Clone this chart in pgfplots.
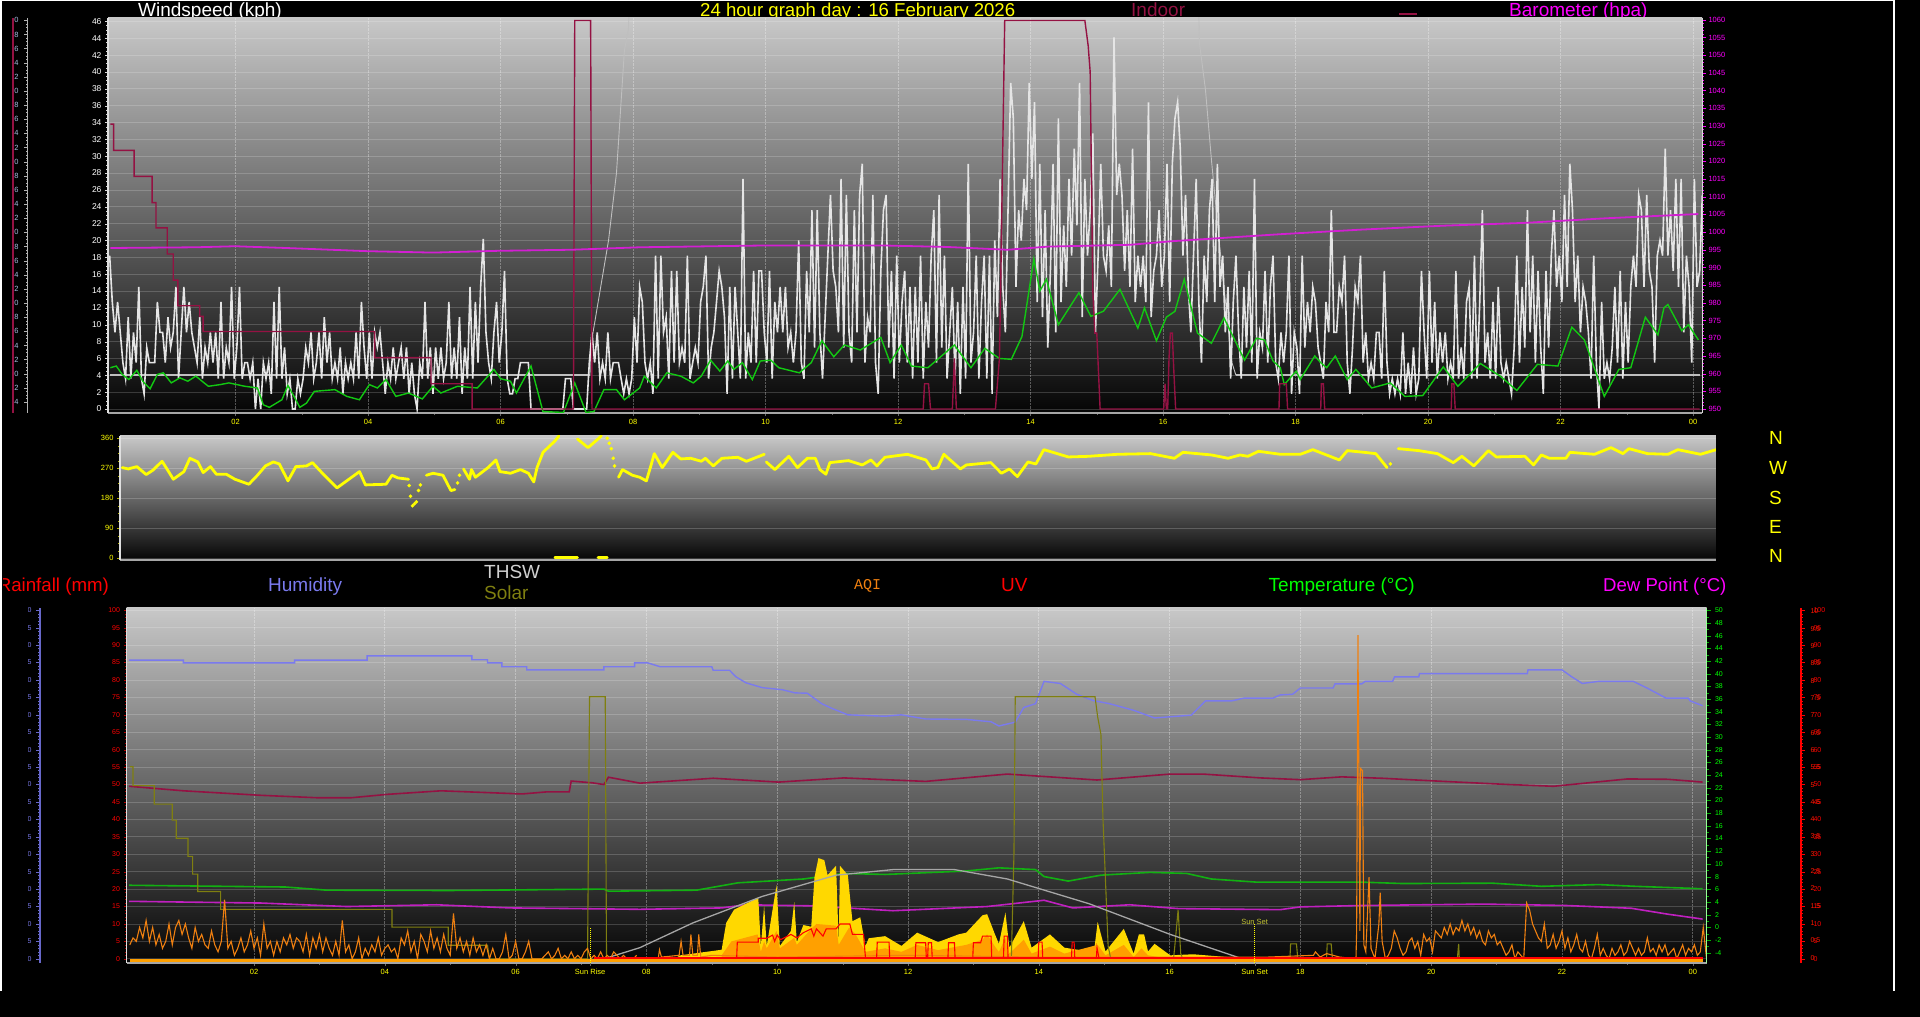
\documentclass[border=0pt]{standalone}
\usepackage{fontspec}
\setmainfont{Liberation Sans}
\newfontfamily\monofnt{Liberation Mono}
\usepackage{pgfplots}
\usepackage{pgfplotstable}
\pgfplotsset{compat=1.18}

\definecolor{yellow}{HTML}{FFFF00}
\definecolor{magenta}{HTML}{FF00FF}
\definecolor{indoor}{HTML}{941243}
\definecolor{baro}{HTML}{D21FD2}
\definecolor{windavg}{HTML}{12C812}
\definecolor{humid}{HTML}{7A7AEE}
\definecolor{olivec}{HTML}{7F7F10}
\definecolor{aqi}{HTML}{F08010}
\definecolor{solary}{HTML}{FFD800}
\definecolor{solaro}{HTML}{FFA000}
\definecolor{dewc}{HTML}{C020C0}
\definecolor{tempc}{HTML}{12B012}
\definecolor{farlabel}{HTML}{A8BCE0}

\newcommand{\fs}[1]{\fontsize{#1}{#1}\selectfont}
% title at x, baseline measured from the top of the picture in pixels
\newcommand{\ttl}[5][19]{\node[anchor=base west,inner sep=0pt,text=#5,font=\fs{#1}] at (#2pt,1017pt-#3pt) {#4};}

\pgfplotsset{
  panel/.style={
    scale only axis,
    axis y line*=left, axis x line*=bottom,
    axis background/.style={top color=bgtop, bottom color=bgbot},
    tick align=outside,
    major tick length=3pt, minor tick length=2pt,
    /pgf/number format/assume math mode=true,
    /pgf/number format/1000 sep={},
    y axis line style={color=black!12!white,line width=1.6pt},
    x axis line style={color=black!35!white,line width=2pt},
  },
  hours/.style={
    xtick={2,4,...,24},
    xticklabels={02,04,06,08,10,12,14,16,18,20,22,00},
    minor x tick num=1,
    xticklabel style={font=\fs{7.5},text=yellow},
    xmajorgrids, x grid style={white,opacity=.3,densely dotted,line width=.8pt},
    x tick style={black!60!white},
  },
  sideaxis/.style={
    scale only axis,
    axis x line=none,
    tick align=inside,
    major tick length=4pt, minor tick length=2pt,
    /pgf/number format/assume math mode=true,
    /pgf/number format/1000 sep={},
  },
  dirl/.style={yellow,line width=2.8pt,line cap=round,line join=round,mark=none},
  dird/.style={yellow,only marks,mark=*,mark size=1.6pt,mark options={fill=yellow,draw=yellow}},
}
\definecolor{bgtop}{HTML}{C8C8C8}
\definecolor{bgbot}{HTML}{050505}

% wind gust in kph, one row every 0.04 h from 0.1 h
\pgfplotstableread[row sep=\\,header=false]{
18.2\\12.7\\9.1\\12.7\\9.1\\5.5\\3.6\\10.9\\3.6\\9.1\\5.5\\14.5\\3.6\\1.8\\7.3\\5.5\\5.5\\5.5\\12.7\\9.1\\9.1\\5.5\\10.9\\7.3\\9.1\\
14.5\\3.6\\9.1\\14.5\\9.1\\12.7\\9.1\\7.3\\5.5\\10.9\\3.6\\7.3\\5.5\\9.1\\5.5\\9.1\\3.6\\12.7\\3.6\\7.3\\5.5\\14.5\\3.6\\7.3\\14.5\\
3.6\\5.5\\5.5\\3.6\\5.5\\0\\3.6\\0\\5.5\\3.6\\5.5\\1.8\\12.7\\3.6\\14.5\\3.6\\7.3\\1.8\\3.6\\0\\0\\3.6\\1.8\\3.6\\7.3\\
5.5\\9.1\\3.6\\5.5\\9.1\\3.6\\10.9\\5.5\\9.1\\3.6\\5.5\\3.6\\7.3\\1.8\\5.5\\3.6\\5.5\\3.6\\9.1\\3.6\\12.7\\7.3\\3.6\\9.1\\3.6\\
9.1\\7.3\\9.1\\5.5\\1.8\\5.5\\3.6\\7.3\\3.6\\5.5\\7.3\\3.6\\7.3\\1.8\\5.5\\1.8\\0\\5.5\\3.6\\12.7\\3.6\\7.3\\1.8\\7.3\\3.6\\
7.3\\3.6\\5.5\\12.7\\3.6\\7.3\\3.6\\10.9\\1.8\\7.3\\3.6\\14.5\\3.6\\12.7\\5.5\\14.5\\20.2\\9.1\\5.5\\3.6\\9.1\\12.7\\5.5\\9.1\\16.4\\
3.6\\1.8\\1.8\\3.6\\3.6\\5.5\\5.5\\5.5\\5.5\\0\\0\\0\\0\\0\\0\\0\\0\\0\\0\\0\\0\\0\\3.6\\3.6\\3.6\\
0\\0\\0\\0\\0\\0\\5.5\\9.1\\5.5\\9.1\\3.6\\5.5\\3.6\\9.1\\3.6\\5.5\\5.5\\5.5\\3.6\\1.8\\3.6\\1.8\\3.6\\10.9\\5.5\\
14.5\\12.7\\5.5\\3.6\\5.5\\1.8\\18.2\\3.6\\18.2\\9.1\\10.9\\3.6\\16.4\\5.5\\16.4\\5.5\\7.3\\5.5\\18.2\\3.6\\5.5\\7.3\\5.5\\12.7\\14.5\\
18.2\\3.6\\7.3\\9.1\\12.7\\16.4\\14.5\\10.9\\1.8\\14.5\\3.6\\14.5\\9.1\\3.6\\27.3\\3.6\\9.1\\5.5\\16.4\\5.5\\16.4\\16.4\\9.1\\5.5\\16.4\\
3.6\\12.7\\9.1\\14.5\\9.1\\14.5\\7.3\\9.1\\5.5\\9.1\\20\\5.5\\3.6\\16.4\\9.1\\23.6\\7.3\\23.6\\9.1\\3.6\\10.9\\18.2\\25.4\\16.4\\14.5\\
9.1\\27.3\\7.3\\25.4\\9.1\\5.5\\23.6\\9.1\\25.4\\29.1\\5.5\\10.9\\9.1\\25.4\\5.5\\1.8\\16.4\\23.6\\25.4\\7.3\\16.4\\3.6\\18.2\\5.5\\12.7\\
16.4\\5.5\\14.5\\3.6\\14.5\\5.5\\18.2\\3.6\\12.7\\7.3\\18.2\\23.6\\5.5\\25.4\\7.3\\18.2\\3.6\\9.1\\14.5\\3.6\\12.7\\1.8\\14.5\\3.6\\29.1\\
5.5\\9.1\\18.2\\3.6\\12.7\\18.2\\3.6\\18.2\\1.8\\20\\10.9\\27.3\\14.5\\9.1\\23.6\\38.7\\34.5\\14.5\\23.6\\20\\27.3\\23.6\\38.7\\27.3\\36.4\\
12.7\\29.1\\10.9\\23.6\\7.3\\16.4\\29.1\\9.1\\34.5\\12.7\\21.8\\14.5\\27.3\\18.2\\30.9\\21.8\\38.7\\10.9\\27.3\\18.2\\23.6\\32.7\\9.1\\18.2\\29.1\\
18.2\\16.4\\21.8\\14.5\\44.1\\25.4\\29.1\\25.4\\16.4\\23.6\\14.5\\30.9\\12.7\\18.2\\14.5\\18.2\\12.7\\36.4\\10.9\\16.4\\18.2\\23.6\\14.5\\18.2\\29.1\\
12.7\\29.1\\34.5\\36.4\\30.9\\18.2\\25.4\\14.5\\9.1\\18.2\\27.3\\12.7\\5.5\\18.2\\12.7\\23.6\\27.3\\12.7\\29.1\\14.5\\18.2\\9.1\\14.5\\3.6\\12.7\\
18.2\\9.1\\3.6\\14.5\\7.3\\16.4\\5.5\\27.3\\3.6\\9.1\\7.3\\16.4\\5.5\\14.5\\18.2\\5.5\\3.6\\9.1\\5.5\\9.1\\18.2\\1.8\\9.1\\7.3\\1.8\\
18.2\\7.3\\12.7\\9.1\\14.5\\12.7\\7.3\\5.5\\3.6\\12.7\\9.1\\23.6\\9.1\\9.1\\14.5\\12.7\\18.2\\5.5\\1.8\\7.3\\14.5\\12.7\\18.2\\5.5\\9.1\\
3.6\\5.5\\3.6\\9.1\\9.1\\3.6\\16.4\\5.5\\1.8\\3.6\\1.8\\3.6\\1.8\\9.1\\1.8\\5.5\\1.8\\7.3\\1.8\\3.6\\16.4\\9.1\\3.6\\16.4\\5.5\\
12.7\\3.6\\9.1\\5.5\\9.1\\3.6\\5.5\\3.6\\16.4\\3.6\\7.3\\3.6\\12.7\\14.5\\3.6\\18.2\\3.6\\12.7\\23.6\\5.5\\9.1\\3.6\\12.7\\3.6\\14.5\\
5.5\\3.6\\5.5\\3.6\\1.8\\7.3\\18.2\\5.5\\14.5\\7.3\\23.6\\9.1\\18.2\\5.5\\16.4\\7.3\\1.8\\16.4\\7.3\\18.2\\23.6\\14.5\\18.2\\12.7\\25.4\\
14.5\\29.1\\23.6\\12.7\\18.2\\9.1\\14.5\\12.7\\9.1\\3.6\\18.2\\5.5\\0\\12.7\\3.6\\5.5\\3.6\\7.3\\14.5\\5.5\\16.4\\3.6\\12.7\\5.5\\14.5\\
18.2\\14.5\\25.4\\23.6\\14.5\\25.4\\16.4\\14.5\\5.5\\18.2\\20\\18.2\\30.9\\18.2\\23.6\\16.4\\27.3\\14.5\\27.3\\9.1\\18.2\\14.5\\5.5\\27.3\\14.5\\16.4\\25.4\\9.1\\18.2\\12.7\\14.5\\23.6\\
}\windgust

% AQI, one row every 0.05 h from 0.1 h
\pgfplotstableread[row sep=\\,header=false]{
4\\6\\5\\9\\6\\11\\5\\9\\4\\7\\3\\5\\10\\4\\9\\11\\7\\10\\6\\3\\9\\5\\7\\4\\3\\8\\4\\2\\5\\17\\3\\5\\1\\3\\6\\2\\4\\8\\3\\6\\1\\10\\3\\5\\1\\5\\2\\6\\4\\7\\3\\6\\5\\2\\7\\1\\6\\3\\7\\2\\
6\\3\\1\\5\\1\\11\\2\\4\\0\\2\\6\\0\\3\\1\\4\\2\\6\\1\\3\\4\\2\\3\\0\\6\\4\\8\\2\\5\\0\\7\\5\\2\\8\\3\\6\\2\\7\\3\\1\\13\\3\\6\\2\\5\\1\\6\\2\\4\\1\\4\\0\\3\\0\\0\\2\\7\\0\\1\\5\\0\\
0\\2\\5\\0\\0\\0\\0\\1\\2\\0\\1\\3\\0\\1\\0\\2\\0\\1\\0\\2\\3\\0\\1\\0\\2\\0\\1\\0\\2\\1\\0\\1\\0\\0\\0\\1\\
}\aqifirst
% AQI from 19.3 h
\pgfplotstableread[row sep=\\,header=false]{
0\\1\\3\\8\\6\\3\\1\\2\\5\\6\\3\\5\\1\\7\\5\\6\\2\\8\\7\\6\\9\\7\\10\\7\\9\\8\\11\\8\\10\\7\\9\\6\\8\\5\\4\\8\\6\\7\\4\\5\\3\\1\\2\\4\\0\\2\\1\\0\\16\\14\\10\\8\\6\\5\\10\\3\\4\\7\\3\\5\\8\\3\\6\\2\\4\\7\\3\\2\\5\\1\\0\\3\\7\\1\\3\\1\\0\\3\\1\\2\\4\\1\\2\\5\\3\\1\\3\\1\\2\\6\\2\\3\\1\\4\\2\\4\\1\\2\\3\\0\\2\\4\\1\\3\\2\\4\\1\\2\\9\\1\\4\\1\\
}\aqilast

\begin{document}
\begin{tikzpicture}
\useasboundingbox (0,0) rectangle (1920pt,1017pt);
\fill[black] (0,0) rectangle (1920pt,1017pt);

% titles first, the panels cover their descenders
\ttl{138}{17}{Windspeed (kph)}{white}
\ttl[18.6]{700}{17}{24 hour graph day : 16 February 2026}{yellow}
\ttl{1131}{17}{Indoor}{indoor}
\ttl{1509}{17}{Barometer (hpa)}{magenta}
\draw[indoor,line width=1.5pt] (1399pt,1003pt) -- (1417pt,1003pt);
\begin{scope}
\clip (3pt,560pt) rectangle (120pt,400pt);
\ttl[18.7]{-2.4}{592}{Rainfall (mm)}{red}
\end{scope}
\ttl{268}{592}{Humidity}{humid}
\ttl{484}{579}{THSW}{black!18!white}
\ttl{484}{600}{Solar}{olivec}
\node[anchor=base west,inner sep=0pt,text=aqi,font=\monofnt\fs{15}] at (854pt,427.5pt) {AQI};
\ttl{1001}{592}{UV}{red}
\ttl{1268.5}{592}{Temperature (°C)}{green}
\ttl[18.6]{1603}{592}{Dew Point (°C)}{magenta}
\ttl{1769}{445}{N}{yellow}
\ttl{1769}{475}{W}{yellow}
\ttl{1769}{505}{S}{yellow}
\ttl{1769}{534}{E}{yellow}
\ttl{1769}{563}{N}{yellow}

% ---------- wind panel ----------
\begin{axis}[panel,hours,
  at={(108pt,604pt)},width=1594pt,height=395pt,
  xmin=0.075,xmax=24.135,ymin=-0.47,ymax=46.4,
  ytick={0,2,...,46},minor y tick num=3,
  yticklabel style={font=\fs{8.5},text=white},
  y tick style={black!15!white},
  ymajorgrids,y grid style={white,opacity=.18,line width=.8pt},
]
\addplot[black!25!white,line width=1.8pt] coordinates {(0.11,4)(7.35,4)};
\addplot[black!25!white,line width=.9pt] coordinates {(7.35,4)(7.36,7.4)(7.63,20)(7.75,28)(7.87,42.6)(7.93,45)(8.0,60)};
\addplot[black!25!white,line width=.9pt] coordinates {(16.5,60)(16.55,43.4)(16.64,37.9)(16.73,29.6)(16.86,18.9)(17.04,5.5)(17.1,4)};
\addplot[black!25!white,line width=1.8pt] coordinates {(17.1,4)(24.1,4)};
\addplot[black!10!white,line width=1.6pt] table[x expr=\coordindex*0.04+0.1,y index=0] \windgust;
\addplot[windavg,line width=1.4pt] coordinates {
(.11,4.9)(.2,5.1)(.29,4.1)(.39,3.5)(.51,4.6)(.6,3.3)(.71,2.4)(.82,4.1)(.91,4.3)(1.03,3.1)(1.16,3.7)(1.28,3.3)(1.4,3.9)(1.59,2.7)(1.77,2.9)(1.9,3.1)(2.14,2.7)(2.33,2.5)(2.42,.5)(2.51,.2)(2.7,1.1)(2.79,2.8)(2.91,1.1)(2.97,.2)(3.07,.7)(3.19,2.1)(3.5,2.3)(3.68,1.5)(3.87,1.1)(4.02,2.9)(4.14,2.5)(4.27,3.5)(4.42,1.5)(4.61,1.9)(4.82,1.2)(4.98,2.7)(5.1,1.9)(5.35,2.7)(5.65,2.5)(5.9,4.7)(6,3.6)(6.15,3.3)(6.24,1.9)(6.46,5.1)(6.64,-.3)(6.95,-.4)(7.12,3.1)(7.29,-.4)(7.41,-.3)(7.56,2.3)(7.75,2.3)(7.87,1.1)(8.1,2.5)
(8.17,3.9)(8.35,2.5)(8.51,4.3)(8.72,3.9)(8.91,3.1)(9.03,3.9)(9.17,5.8)(9.31,4.5)(9.43,5.7)(9.52,4.7)(9.65,5.5)(9.8,3.5)(9.92,5.7)(10.08,5.8)(10.2,4.9)(10.51,4.3)(10.69,5.5)(10.85,8.1)(11.03,6.2)(11.19,7.6)(11.43,7)(11.74,8.5)(11.88,5.5)(12.05,7.6)(12.2,5.1)(12.45,4.9)(12.85,7.6)(13.1,4.9)(13.31,7.2)(13.53,6)(13.71,5.9)(13.87,8.6)(14.05,17.8)(14.14,14)(14.24,15.4)(14.42,10)(14.73,13.8)(14.91,11)(15.1,11.6)(15.35,14.2)(15.62,9.6)(15.72,12)(15.9,8.1)(16.05,10.9)(16.18,11.6)(16.32,15.4)(16.52,9)(16.73,7.8)(16.92,10.8)(17.23,5.8)(17.41,8.4)(17.53,8.2)(17.66,5.7)
(17.77,4.9)(17.83,2.9)(18.01,4.5)(18.07,3.5)(18.29,6.3)(18.38,5.5)(18.47,4.9)(18.6,6.3)(18.78,3.5)(18.91,4.7)(19.15,2.5)(19.43,3.1)(19.65,1.5)(19.92,1.6)(20.23,5)(20.45,2.7)(20.79,5.4)(21.09,3.9)(21.34,2.2)(21.65,5.3)(21.96,5.1)(22.17,9.7)(22.36,8.2)(22.66,1.5)(22.88,4.7)(23.06,4.9)(23.28,10.9)(23.47,8.8)(23.56,12)(23.62,12.4)(23.83,9.3)(23.93,10)(24.08,8.2)};
\addplot[indoor,line width=1.4pt] coordinates {
(0.11,33.8)(0.16,33.8)(0.16,30.7)(0.47,30.7)(0.47,27.6)(0.74,27.6)(0.74,24.5)(0.8,24.5)(0.8,21.5)(0.97,21.5)(0.97,18.4)(1.06,18.4)(1.06,15.3)(1.13,15.3)(1.13,12.25)(1.46,12.25)(1.46,11)(1.51,11)(1.51,9.2)(4.1,9.2)(4.1,6.1)(4.95,6.1)(4.95,3)(5.57,3)(5.57,0)(7.1,0)(7.12,46.1)(7.36,46.1)(7.38,0)(12.38,0)(12.4,3)(12.46,3)(12.49,0)(12.82,0)(12.85,6)(12.88,0)(13.47,0)(13.5,3)(13.53,6)(13.55,15)(13.61,46.1)(14.82,46.1)(14.87,43.1)(14.9,40)(14.94,14)(14.97,9)(15,9)(15.05,0)(16.01,0)(16.03,3)(16.05,0)(16.07,0)(16.09,6)(16.11,9)(16.14,9)(16.16,5)(16.19,0)(17.75,0)(17.76,3)(17.86,3)(17.88,0)(18.38,0)(18.39,3)(18.42,3)(18.44,0)(20.35,0)(20.36,3)(20.39,3)(20.41,0)(24.1,0)};
\end{axis}
\begin{axis}[sideaxis,
  at={(108pt,604pt)},width=1594pt,height=395pt,
  xmin=0.075,xmax=24.135,ymin=948.87,ymax=1060.5,
  axis y line*=right,
  tick align=outside,
  ytick={950,955,...,1060},minor y tick num=4,
  yticklabel style={font=\fs{7.5},text=magenta,xshift=-1pt},
  y axis line style={black!15!white,line width=1pt},
  y tick style={magenta},
]
\addplot[baro,line width=1.8pt] coordinates {
(.11,995.5)(1.4,995.7)(2,996)(2.14,995.9)(2.76,995.5)(3.99,994.6)(4.98,994.2)(5.96,994.7)(7.07,995)(8.1,995.7)(9.95,996.2)(11.8,996.2)(12.73,995.8)(13.65,995)(14.27,995.9)(15.5,996.4)(16.12,997.4)(17.77,999.4)(19,1000.7)(20.23,1001.8)(21.46,1002.6)(22.69,1003.9)(24.08,1005.1)};
\end{axis}
% indoor scale at the far left, two-digit labels are cut by the frame
\begin{scope}
\clip (14pt,590pt) rectangle (40pt,1017pt);
\begin{axis}[sideaxis,
  at={(12.5pt,604pt)},width=15pt,height=395pt,
  xmin=0,xmax=1,ymin=-5.56,ymax=50.33,
  axis y line*=right,
  ytick={-4,-2,...,50},minor y tick num=3,
  yticklabel style={font=\fs{7.5},text=farlabel,anchor=east,xshift=-5.5pt},
  y axis line style={black!30!white,line width=1pt},
  y tick style={black!30!white},
]
\addplot[draw=none] coordinates {(0,0)};
\end{axis}
\end{scope}
\draw[indoor,line width=2pt] (12.6pt,604pt) -- (12.6pt,999pt);

% ---------- wind direction ----------
\begin{axis}[panel,
  at={(120pt,457pt)},width=1596pt,height=124pt,
  xmin=0.075,xmax=24.165,ymin=-5.7,ymax=367,
  xtick=\empty,
  ytick={0,90,180,270,360},minor y tick num=3,
  yticklabel style={font=\fs{7.5},text=yellow},
  y tick style={yellow!70!black},
  ymajorgrids,y grid style={white,opacity=.2,line width=.8pt},
]
\addplot[dirl] coordinates {(.11,272)(.2,268)(.33,275)(.47,251)(.57,264)(.71,291)(.79,266)(.88,237)(1.04,260)(1.13,300)(1.25,289)(1.33,257)(1.44,275)(1.53,252)(1.68,252)(1.81,237)(2.02,222)(2.15,249)(2.27,277)(2.39,289)(2.48,283)(2.61,232)(2.73,275)(2.89,277)(2.98,287)(3.13,255)(3.35,211)(3.69,260)(3.78,220)(4.09,222)(4.18,249)(4.27,241)(4.43,237)};
\addplot[dird] coordinates {(4.44,218)(4.46,186)(4.49,157)(4.52,163)(4.55,169)(4.58,203)(4.61,220)};
\addplot[dirl] coordinates {(4.7,249)(4.8,255)(4.95,249)(5.07,203)(5.13,206)};
\addplot[dird] coordinates {(5.17,226)(5.2,249)};
\addplot[dirl] coordinates {(5.26,268)(5.35,237)(5.38,266)(5.44,243)(5.63,272)(5.75,295)(5.81,260)(5.97,255)(6.12,266)(6.24,255)(6.32,229)(6.37,272)(6.46,318)(6.64,352)(6.7,367)};
\addplot[dirl] coordinates {(6.98,358)(7.14,332)(7.29,358)(7.34,367)};
\addplot[dird] coordinates {(7.43,360)(7.46,345)(7.49,329)(7.52,300)(7.54,277)};
\addplot[dirl] coordinates {(7.6,243)(7.66,266)(7.81,249)(7.92,243)(8.02,232)(8.08,272)(8.14,314)(8.26,272)(8.42,318)(8.54,298)(8.69,300)(8.85,291)(8.91,300)(9.03,277)(9.16,300)(9.4,303)(9.53,291)(9.8,312)};
\addplot[dirl] coordinates {(9.83,289)(9.96,266)(10.17,306)(10.3,272)(10.45,300)(10.57,300)(10.64,266)(10.73,252)(10.79,287)(11.07,293)(11.28,280)(11.41,295)(11.5,277)(11.62,303)(11.96,312)(12.24,295)(12.33,268)(12.42,272)(12.51,312)(12.76,268)(12.85,280)(13.22,287)(13.38,255)(13.5,268)(13.62,245)(13.78,289)(13.9,283)(14.02,326)(14.39,304)(14.7,306)(15.13,312)(15.63,314)(15.99,300)(16.12,318)(16.55,310)(16.8,300)(16.98,310)(17.1,306)(17.26,321)(17.59,312)(17.89,312)(18.08,326)(18.26,312)(18.48,295)(18.6,323)(18.85,318)(19.03,314)(19.2,272)};
\addplot[dird] coordinates {(19.25,283)};
\addplot[dirl] coordinates {(19.37,329)(19.68,323)(19.96,314)(20.2,287)(20.33,306)(20.51,277)(20.73,323)(20.85,304)(21.28,306)(21.41,280)(21.53,310)(21.65,300)(21.9,300)(21.96,318)(22.33,312)(22.58,332)(22.76,314)(22.85,329)(23.13,314)(23.44,312)(23.59,326)(23.93,312)(24.17,326)};
\addplot[dirl] coordinates {(6.64,2)(6.98,2)};
\addplot[dirl] coordinates {(7.29,2)(7.43,2)};
\end{axis}

% ---------- temperature panel ----------
\begin{axis}[panel,hours,
  at={(126.5pt,54pt)},width=1580pt,height=355pt,
  xmin=0.05,xmax=24.21,ymin=-1.2,ymax=100.65,
  ytick={0,5,...,100},minor y tick num=4,
  yticklabel style={font=\fs{7},text=red},
  y tick style={red!70!black},
  ymajorgrids,y grid style={white,opacity=.18,line width=.8pt},
  extra x ticks={7.14,17.3},extra x tick labels={Sun Rise,Sun Set},
  extra x tick style={grid=none,tick style={yellow},tick label style={font=\fs{7.5},text=yellow}},
]
\addplot[humid,line width=1.4pt] coordinates {
(.09,85.7)(.92,85.7)(.92,84.9)(2.62,84.9)(2.62,85.7)(3.73,85.7)(3.73,86.9)(5.33,86.9)(5.33,85.8)(5.57,85.8)(5.57,84.9)(5.79,84.9)(5.79,83.8)(6.17,83.8)(6.17,82.9)(7.35,82.9)(7.35,83.8)(7.82,83.8)(7.82,84.9)(8.02,84.9)(8.21,83.8)(9,83.8)(9.02,82.8)(9.27,82.8)(9.37,80.9)(9.52,79.2)(9.77,77.8)(10.08,77.2)(10.27,76.3)(10.46,76.2)(10.68,73.2)(10.83,71.9)(11.08,70)(11.65,69.6)(11.9,70)(12.27,68.8)(12.89,68.7)(13.27,68)(13.39,66.8)(13.64,67.9)(13.77,72.1)(13.95,73.2)(14.08,79.6)(14.33,79)(14.58,75.9)(14.83,74.1)(15.08,73.2)(15.45,71.3)(15.77,69.1)(16.33,69.9)(16.55,74)(16.95,74)(17.14,74.8)(17.58,74.8)(17.69,75.7)(17.88,75.9)(18,77.7)(18.5,77.7)(18.53,78.9)(18.94,78.9)(18.99,79.6)(19.41,79.6)(19.44,80.9)(19.81,80.9)(19.82,81.8)(21.47,81.8)(21.48,82.9)(22,82.9)(22.15,80.9)(22.31,79)(22.56,79.6)(23.09,79.6)(23.31,77.6)(23.59,74.8)(23.93,74.8)(23.96,74)(24.15,72.6)};
\addplot[indoor,line width=1.6pt] coordinates {
(.09,49.5)(.92,48.2)(2.11,46.9)(2.98,46.2)(3.48,46.2)(4.05,47.2)(4.86,48.2)(6.1,47.3)(6.48,47.9)(6.82,47.9)(6.85,51)(7.17,50.5)(7.35,50)(7.42,52.1)(7.9,50.4)(9.02,51.8)(10.02,50.7)(11.02,51.9)(12.27,50.9)(13.52,53)(14.89,51.3)(16.01,53)(16.51,53)(17.39,51.9)(18,51.4)(18.63,52.2)(19.25,51.8)(20.19,50.9)(21.19,50)(21.87,49.5)(23,51.6)(23.62,51.5)(24.15,50.7)};
\addplot[tempc,line width=1.6pt] coordinates {
(.09,21.1)(2.48,20.6)(3.11,19.7)(4.98,19.6)(7.35,20)(7.42,19.4)(8.77,19.7)(9.4,21.8)(10.4,22.9)(11.02,24.5)(11.65,24.2)(12.89,25.2)(13.39,26.1)(13.95,25.6)(14.08,23.6)(14.45,22.3)(14.95,24)(15.7,24.8)(16.26,24.5)(16.64,22.9)(17.33,22)(18.94,22)(19.56,21.6)(20.94,21.7)(21.69,20.8)(22.56,21.3)(23.12,20.8)(24.15,20.1)};
\addplot[dewc,line width=1.6pt] coordinates {
(.09,16.5)(.86,16.3)(2.11,16)(3.42,15)(4.79,15.5)(5.92,14.6)(7.9,14.2)(9.15,14.6)(9.52,15.5)(10.52,15.2)(11.77,13.8)(13.21,15)(14.08,16.8)(14.52,14.6)(15.39,15.5)(16.14,14.4)(17.69,14.1)(18,14.9)(18.94,15.3)(20.81,15.7)(22.06,15.3)(23.06,14.5)(23.62,12.8)(24.15,11.4)};
\addplot[fill=solary,draw=none] coordinates {
(7.9,0)(7.9,.4)(8.46,.4)(8.52,1)(9.15,2.6)(9.22,10.3)(9.34,14.1)(9.71,17.6)(9.75,3.7)(9.8,15.2)(9.84,3.7)(9.99,21.2)(10.04,3.7)(10.21,8)(10.26,16.3)(10.3,4.8)(10.4,9.7)(10.52,9.2)(10.57,23.4)(10.63,28.9)(10.72,28.3)(10.77,24)(10.9,26.7)(10.94,4.8)(10.96,26.7)(11.08,24)(11.15,10.8)(11.27,11.9)(11.35,3.7)(11.4,5.9)(11.65,6.5)(11.9,3.7)(12.14,7.5)(12.46,4.8)(12.77,7)(12.89,7.5)(13.14,12.5)(13.21,12.8)(13.33,7)(13.39,4.3)(13.49,13.3)(13.55,3.2)(13.77,10.8)(13.89,3.2)(14.17,7)(14.39,3.2)(14.77,2.1)(14.84,1.5)(14.9,10.6)(15.02,2.1)(15.3,8.6)(15.45,1.5)(15.53,7)(15.61,7)(15.67,2.1)(15.77,4.3)(16.01,1)(16.36,1.3)(16.95,.4)(17.14,0)} -- cycle;
\addplot[fill=solaro,draw=none] coordinates {
(9.15,0)(9.15,1)(9.3,5)(9.7,7)(9.75,2)(9.8,5)(9.84,3)(9.99,8)(10.04,3)(10.26,6)(10.3,4)(10.52,8.6)(10.6,10)(10.9,9.5)(10.94,4)(11.1,9)(11.2,7)(11.35,2)(11.65,3)(11.9,2)(12.14,4)(12.46,2.5)(12.89,4)(13.14,5.5)(13.21,7)(13.33,3.5)(13.39,2)(13.49,6)(13.55,1.5)(13.77,5.5)(13.89,1.5)(14.17,3.5)(14.39,1.5)(14.9,4)(15.02,1)(15.3,4)(15.45,.5)(15.57,3)(15.67,1)(16,0)} -- cycle;
\addplot[olivec,line width=1.1pt] coordinates {
(.1,55.1)(.15,55.1)(.15,49.7)(.475,49.7)(.475,44.4)(.75,44.4)(.75,39.8)(.81,39.8)(.81,34.6)(.99,34.6)(.99,29.4)(1.06,29.4)(1.06,24.3)(1.14,24.3)(1.14,19.3)(1.49,19.3)(1.49,14.2)(4.11,14.2)(4.11,9.1)(4.97,9.1)(4.97,3.9)(5.57,3.9)(5.6,0)(7.1,0)(7.13,75.2)(7.37,75.2)(7.39,0)(13.58,0)(13.62,30)(13.64,75.2)(14.86,75.2)(14.9,69.4)(14.95,64.4)(14.98,40.8)(15.06,3.7)(15.1,0)(16.06,0)(16.08,3.7)(16.13,14)(16.17,1.5)(16.2,0)(17.84,0)(17.85,4.3)(17.94,4.3)(17.96,0)(18.4,0)(18.41,4.3)(18.47,4.3)(18.49,0)(20.4,0)(20.42,4.3)(20.43,0)(24.1,0)};
\addplot[black!35!white,line width=1.3pt] coordinates {
(7.42,.4)(7.9,3.2)(8.71,10.3)(9.77,17.9)(10.9,24)(11.77,25.6)(12.71,25.6)(13.52,22.9)(14.77,15.8)(16.01,7)(17.08,.2)(24.15,-.2)};
\addplot[aqi,line width=1.1pt] table[x expr=\coordindex*0.05+0.1,y index=0] \aqifirst;
\addplot[aqi,line width=1.1pt] coordinates {(8,0)(8.18,0)(8.2,2.6)(8.23,.5)(8.5,1)(8.53,5)(8.56,1)(8.66,1)(8.68,7)(8.71,1)(8.78,1)(8.8,7)(8.83,.5)(9,1)(10,.5)(12,1)(14,.5)(16,.5)(17.5,.5)(18.2,1)(18.23,2)(18.3,.5)(18.4,1.5)(18.6,.5)(18.85,0)(18.86,8)(18.88,92.9)(18.91,8)(18.92,54.6)(18.95,54)(18.97,4)(19,2)(19.05,23.4)(19.08,3)(19.14,0)(19.2,10)(19.22,19)(19.25,5)(19.3,0)};
\addplot[aqi,line width=1.1pt] table[x expr=\coordindex*0.045+19.3,y index=0] \aqilast;
\addplot[solaro,line width=2.6pt] coordinates {(.1,-.4)(24.15,-.4)};
\addplot[red,line width=1.1pt] coordinates {
(9.38,.2)(9.39,4.8)(9.71,4.8)(9.71,5.9)(9.84,5.9)(9.93,6.8)(9.96,5)(10,6.8)(10.05,5.5)(10.21,7)(10.3,6)(10.4,7.5)(10.52,8.6)(10.56,6.5)(10.6,8.6)(10.7,6.5)(10.75,8.6)(10.9,8.6)(10.96,10)(11.11,10)(11.15,7)(11.32,7)(11.35,.2)(11.52,.2)(11.53,4.8)(11.71,4.8)(11.72,.2)(12.11,.2)(12.12,4.6)(12.27,4.6)(12.28,.2)(12.3,.2)(12.31,4.6)(12.36,4.6)(12.37,.2)(12.61,.2)(12.62,4.6)(12.71,4.6)(12.72,.2)(12.99,.2)(13,4.6)(13.11,4.6)(13.14,6.5)(13.27,6.5)(13.28,.2)(13.46,.2)(13.47,6.5)(13.52,6.5)(13.53,.2)(13.99,.2)(14,4.8)(14.05,4.8)(14.06,.2)(14.5,.2)(14.51,4.8)(14.54,4.8)(14.55,.2)(14.88,.2)(14.89,3.2)(14.92,.2)};
\addplot[red,line width=2.4pt] coordinates {(7.2,.2)(24.15,.2)};
\addplot[yellow,densely dotted,line width=1pt] coordinates {(7.14,-1.2)(7.14,9)};
\addplot[yellow,densely dotted,line width=1pt] coordinates {(17.3,-1.2)(17.3,10)};
\node[font=\fs{7.5},text=yellow!70!black!80!white] at (axis cs:17.3,10.6) {Sun Set};
\end{axis}
% temperature scale on the right of the panel
\begin{axis}[sideaxis,
  at={(126.5pt,54pt)},width=1580pt,height=355pt,
  xmin=0,xmax=1,ymin=-5.62,ymax=50.36,
  axis y line*=right,
  tick align=outside,
  ytick={-4,-2,...,50},minor y tick num=1,
  yticklabel style={font=\fs{7},text=green,xshift=1pt},
  y axis line style={green!40!white,line width=1pt},
  y tick style={green!70!black},
]
\addplot[draw=none] coordinates {(0,10)};
\end{axis}
% rainfall scale at the far left, labels cut by the frame
\begin{scope}
\clip (28pt,40pt) rectangle (60pt,420pt);
\begin{axis}[sideaxis,
  at={(20pt,54pt)},width=20pt,height=355pt,
  xmin=0,xmax=1,ymin=-1.2,ymax=100.65,
  axis y line*=right,
  ytick={0,5,...,100},minor y tick num=4,
  yticklabel style={font=\fs{7},text=humid,anchor=east,xshift=-5pt},
  y axis line style={humid!85!black,line width=1.8pt},
  y tick style={humid!85!black},
]
\addplot[draw=none] coordinates {(0,0)};
\end{axis}
\end{scope}
% two overlapping scales at the far right
\begin{axis}[sideaxis,
  at={(1801pt,54pt)},width=20pt,height=355pt,
  xmin=0,xmax=1,ymin=-1.2,ymax=100.65,
  axis y line*=left,
  ytick={0,5,...,100},minor y tick num=4,
  yticklabel style={font=\fs{7},text=red,anchor=west,xshift=9pt},
  y axis line style={red,line width=2pt},
  y tick style={red},
]
\addplot[draw=none] coordinates {(0,0)};
\end{axis}
\begin{axis}[sideaxis,
  at={(1801pt,54pt)},width=20pt,height=355pt,
  xmin=0,xmax=1,ymin=-.15,ymax=10.1,
  axis y line*=left,
  y axis line style={draw=none},
  major tick length=0pt,minor tick length=0pt,
  ytick={0,0.5,...,10},
  yticklabel style={font=\fs{7},text=red!80!orange,anchor=west,xshift=6pt},
]
\addplot[draw=none] coordinates {(0,0)};
\end{axis}

% white frame of the window
\draw[white,line width=1.2pt] (0,1016.4pt) -- (1893.5pt,1016.4pt);
\draw[white,line width=2pt] (1pt,1017pt) -- (1pt,26pt);
\draw[white,line width=2pt] (1893.5pt,1017pt) -- (1893.5pt,26pt);
\end{tikzpicture}
\end{document}
